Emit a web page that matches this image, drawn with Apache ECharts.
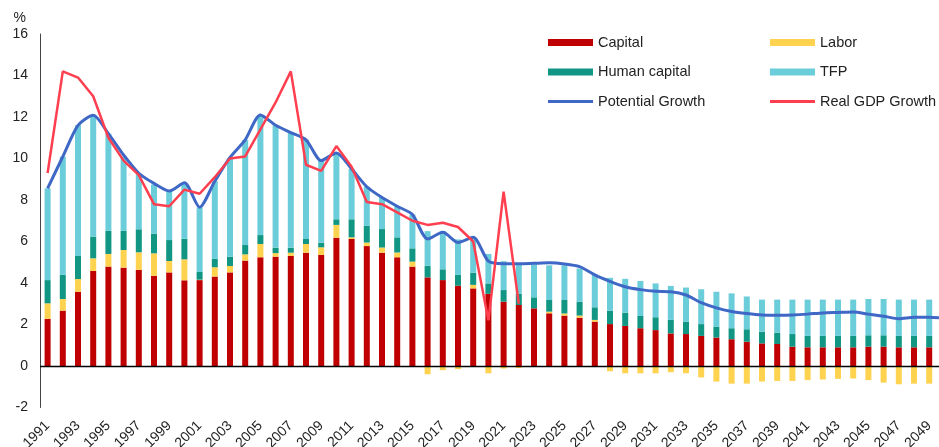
<!DOCTYPE html>
<html>
<head>
<meta charset="utf-8">
<script src="https://cdn.jsdelivr.net/npm/echarts@6/dist/echarts.min.js"></script>
<style>
  html, body { margin: 0; padding: 0; background: #fff; }
  #chart { width: 939px; height: 447px; }
</style>
</head>
<body>
<div id="chart"></div>
<script>
// Years on the category axis
const years = [];
for (let y = 1991; y <= 2050; y++) years.push(String(y));

// Growth contributions (percentage points)
const capital = [
  2.27, 2.67, 3.58, 4.58, 4.79, 4.74, 4.63, 4.35, 4.51, 4.13,
  4.14, 4.31, 4.51, 5.08, 5.24, 5.27, 5.30, 5.46, 5.35, 6.18,
  6.12, 5.78, 5.46, 5.24, 4.79, 4.27, 4.14, 3.87, 3.74, 3.48,
  3.10, 2.94, 2.78, 2.54, 2.43, 2.33, 2.14, 2.02, 1.93, 1.82,
  1.73, 1.57, 1.54, 1.45, 1.37, 1.29, 1.17, 1.09, 1.06, 0.93,
  0.90, 0.90, 0.90, 0.90, 0.93, 0.93, 0.90, 0.90, 0.90, 0.90
];
const labor = [
  0.75, 0.56, 0.61, 0.61, 0.61, 0.85, 0.85, 1.08, 0.55, 1.01,
  0.02, 0.45, 0.31, 0.30, 0.64, 0.17, 0.16, 0.42, 0.37, 0.62,
  0.08, 0.17, 0.25, 0.23, 0.24, -0.40, -0.20, -0.15, 0.17, -0.35,
  -0.12, -0.10, -0.03, 0.08, 0.10, 0.10, 0.08, -0.25, -0.35, -0.35,
  -0.35, -0.30, -0.35, -0.55, -0.75, -0.85, -0.85, -0.75, -0.72, -0.72,
  -0.68, -0.65, -0.62, -0.60, -0.68, -0.80, -0.88, -0.85, -0.85, -0.85
];
const humanCapital = [
  1.12, 1.16, 1.11, 1.04, 1.11, 0.92, 1.11, 0.95, 1.01, 0.99,
  0.37, 0.40, 0.45, 0.45, 0.43, 0.26, 0.24, 0.24, 0.22, 0.27,
  0.87, 0.80, 0.89, 0.73, 0.64, 0.56, 0.52, 0.52, 0.59, 0.50,
  0.56, 0.55, 0.53, 0.56, 0.65, 0.67, 0.61, 0.65, 0.64, 0.59,
  0.62, 0.65, 0.60, 0.57, 0.53, 0.53, 0.60, 0.56, 0.55, 0.61,
  0.55, 0.55, 0.55, 0.55, 0.55, 0.55, 0.55, 0.55, 0.55, 0.55
];
const tfp = [
  4.42, 5.70, 6.30, 5.85, 4.69, 3.59, 2.66, 2.37, 2.35, 2.70,
  3.11, 3.74, 4.73, 5.07, 5.79, 5.90, 5.55, 4.78, 3.96, 3.20,
  2.43, 1.89, 1.52, 1.50, 1.63, 1.67, 1.85, 1.71, 1.70, 1.42,
  1.39, 1.46, 1.59, 1.67, 1.67, 1.60, 1.57, 1.58, 1.63, 1.69,
  1.63, 1.64, 1.64, 1.68, 1.68, 1.68, 1.58, 1.55, 1.59, 1.66,
  1.75, 1.75, 1.75, 1.75, 1.75, 1.75, 1.75, 1.75, 1.75, 1.75
];

// Growth rates (%)
const potentialGrowth = [
  8.56, 10.09, 11.60, 12.08, 11.20, 10.17, 9.29, 8.80, 8.43, 8.83,
  7.65, 8.90, 10.05, 10.90, 12.10, 11.60, 11.25, 10.90, 9.90, 10.27,
  9.50, 8.64, 8.12, 7.70, 7.30, 6.12, 6.44, 5.95, 6.20, 5.05,
  4.93, 4.93, 4.95, 4.97, 4.92, 4.79, 4.39, 4.08, 3.82, 3.68,
  3.60, 3.58, 3.42, 3.05, 2.80, 2.63, 2.53, 2.46, 2.45, 2.46,
  2.50, 2.56, 2.58, 2.60, 2.50, 2.40, 2.28, 2.35, 2.35, 2.30
];
const realGdpGrowth = [
  9.3, 14.2, 13.9, 13.0, 11.0, 9.9, 9.2, 7.8, 7.7, 8.5,
  8.3, 9.1, 10.0, 10.1, 11.4, 12.7, 14.2, 9.7, 9.4, 10.6,
  9.6, 7.9, 7.8, 7.4, 7.0, 6.8, 6.9, 6.7, 6.0, 2.2,
  8.4, 3.0
];

// Axis ticks
const yTicks = { min: -2, max: 16, interval: 2 };

const FONT = 'Liberation Sans, Arial, sans-serif';
const COLORS = {
  capital: '#C00000',
  labor: '#FFD24F',
  human: '#119684',
  tfp: '#6CCDDA',
  potential: '#3F67C6',
  gdp: '#FF3F4F'
};

// Legend icon for the line series: a 3px stroke centred in a 7px-tall box
// (tiny corner specks keep the path's bounding box at the full height).
const LINE_ICON = 'path://M0,0L0.01,0L0,0.01Z M0,2L45,2L45,5L0,5Z M0,7L0.01,7L0,6.99Z';

const chart = echarts.init(document.getElementById('chart'), null, { renderer: 'canvas' });

const barBase = { type: 'bar', stack: 'growth', barWidth: 6, emphasis: { disabled: true } };

const legendBase = {
  orient: 'vertical',
  itemWidth: 45,
  itemHeight: 7,
  itemGap: 14.5,
  selectedMode: false,
  textStyle: { fontFamily: FONT, fontSize: 14.5, color: '#222' }
};

chart.setOption({
  animation: false,
  backgroundColor: '#fff',
  textStyle: { fontFamily: FONT },
  grid: {
    left: 40, right: -13, top: 34, bottom: 39.5,
    containLabel: false,
    outerBoundsMode: 'none'
  },
  legend: [
    Object.assign({}, legendBase, {
      left: 543, top: 30,
      data: [
        { name: 'Capital', icon: 'rect' },
        { name: 'Human capital', icon: 'rect' },
        { name: 'Potential Growth', icon: LINE_ICON }
      ]
    }),
    Object.assign({}, legendBase, {
      left: 765, top: 30,
      data: [
        { name: 'Labor', icon: 'rect' },
        { name: 'TFP', icon: 'rect' },
        { name: 'Real GDP Growth', icon: LINE_ICON }
      ]
    })
  ],
  xAxis: {
    type: 'category',
    data: years,
    axisLine: { show: false, onZero: false },
    axisTick: { show: false },
    splitLine: { show: false },
    axisLabel: {
      interval: 1,
      rotate: 45,
      margin: 16,
      fontFamily: FONT,
      fontSize: 14,
      color: '#222'
    }
  },
  yAxis: {
    type: 'value',
    min: yTicks.min,
    max: yTicks.max,
    interval: yTicks.interval,
    name: '%',
    nameLocation: 'end',
    nameGap: 9,
    nameTextStyle: { fontFamily: FONT, fontSize: 14, color: '#222', align: 'right', padding: [0, 14, 0, 0] },
    axisLine: { show: true, lineStyle: { color: '#444', width: 1 } },
    axisTick: { show: false },
    splitLine: { show: false },
    axisLabel: { margin: 12, fontFamily: FONT, fontSize: 14, color: '#222' }
  },
  series: [
    Object.assign({}, barBase, {
      name: 'Capital', data: capital, itemStyle: { color: COLORS.capital },
      markLine: {
        silent: true,
        symbol: 'none',
        label: { show: false },
        lineStyle: { color: '#000', width: 1.3, type: 'solid' },
        data: [{ yAxis: 0 }]
      }
    }),
    Object.assign({}, barBase, { name: 'Labor', data: labor, itemStyle: { color: COLORS.labor } }),
    Object.assign({}, barBase, { name: 'Human capital', data: humanCapital, itemStyle: { color: COLORS.human } }),
    Object.assign({}, barBase, { name: 'TFP', data: tfp, itemStyle: { color: COLORS.tfp } }),
    {
      name: 'Potential Growth', type: 'line', data: potentialGrowth,
      symbol: 'none', smooth: 0.25, z: 5,
      lineStyle: { color: COLORS.potential, width: 3 },
      itemStyle: { color: COLORS.potential },
      emphasis: { disabled: true }
    },
    {
      name: 'Real GDP Growth', type: 'line', data: realGdpGrowth,
      symbol: 'none', z: 6,
      lineStyle: { color: COLORS.gdp, width: 2.5 },
      itemStyle: { color: COLORS.gdp },
      emphasis: { disabled: true }
    }
  ]
});
</script>
</body>
</html>
